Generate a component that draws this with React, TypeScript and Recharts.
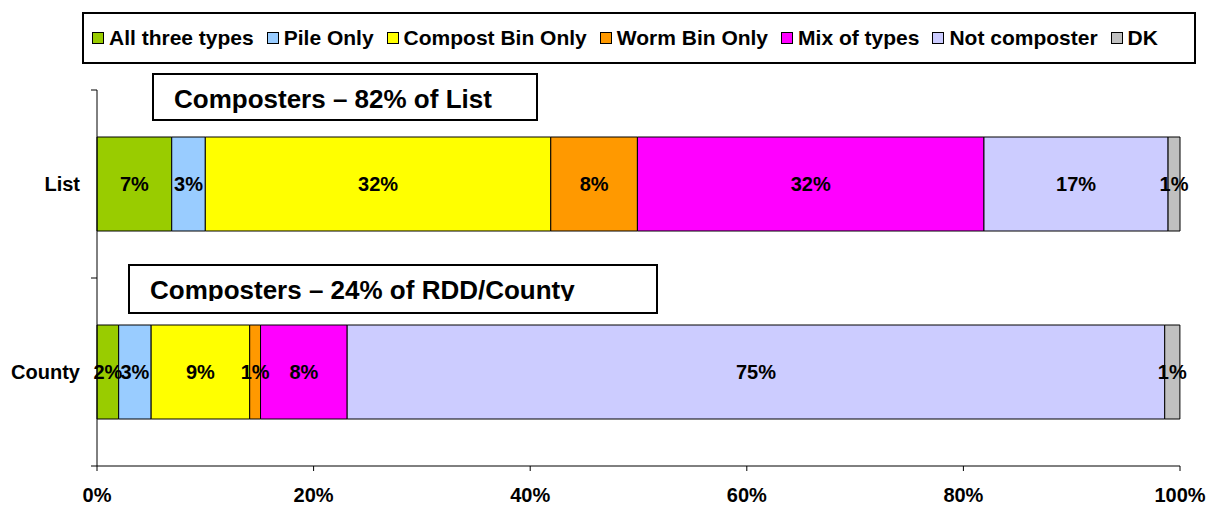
import { Bar, BarChart, LabelList, XAxis, YAxis } from 'recharts'

const FONT = 'Arial, "Liberation Sans", sans-serif'

const categories = ['List', 'County']
const seriesNames = ['All three types', 'Pile Only', 'Compost Bin Only', 'Worm Bin Only', 'Mix of types', 'Not composter', 'DK']
const seriesColors = ['#99CC00', '#99CCFF', '#FFFF00', '#FF9900', '#FF00FF', '#CCCCFF', '#C0C0C0']

// percent of respondents per category, one array per series (List, County)
const allThree = [6.9, 2.0]
const pileOnly = [3.1, 3.0]
const compostBin = [31.9, 9.1]
const wormBin = [8.0, 1.0]
const mixTypes = [32.0, 8.0]
const notComposter = [17.0, 75.49]
const dontKnow = [1.1, 1.4]

const xTicks = [0, 20, 40, 60, 80, 100]

const seriesValues = [allThree, pileOnly, compostBin, wormBin, mixTypes, notComposter, dontKnow]
const keys = seriesNames.map((_, i) => `s${i}`)

const data = categories.map((name, ci) => {
  const row: Record<string, string | number> = { name }
  seriesValues.forEach((vals, si) => {
    row[keys[si]] = vals[ci]
  })
  return row
})

const PLOT_TOP = 90
const PLOT_BOTTOM = 466
const HALF_BAND = (PLOT_BOTTOM - PLOT_TOP) / categories.length / 2

function CategoryTick(props: any) {
  const { x, y, payload, index } = props
  return (
    <g>
      <text x={x - 11} y={y} textAnchor="end" dominantBaseline="central" fontSize={20} fontWeight="bold" fill="#000" fontFamily={FONT}>
        {payload.value}
      </text>
      {index === 0 && <line x1={x} x2={x + 6} y1={y - HALF_BAND} y2={y - HALF_BAND} stroke="#000" />}
      <line x1={x} x2={x + 6} y1={y + HALF_BAND} y2={y + HALF_BAND} stroke="#000" />
    </g>
  )
}

function LegendBox() {
  return (
    <div
      style={{
        position: 'absolute',
        left: 82,
        top: 12,
        width: 1114,
        height: 52,
        border: '2px solid #000',
        display: 'flex',
        alignItems: 'center',
        paddingLeft: 8,
        gap: 13,
        fontFamily: FONT,
        fontWeight: 'bold',
        fontSize: 21,
        boxSizing: 'border-box',
        whiteSpace: 'nowrap',
      }}
    >
      {seriesNames.map((n, i) => (
        <div key={n} style={{ display: 'flex', alignItems: 'center' }}>
          <span style={{ display: 'inline-block', width: 10, height: 10, border: '1px solid #000', background: seriesColors[i], marginRight: 5 }} />
          <span>{n}</span>
        </div>
      ))}
    </div>
  )
}

function Note({ left, top, width, height, clip, text }: { left: number; top: number; width: number; height: number; clip: number; text: string }) {
  return (
    <div
      style={{
        position: 'absolute',
        left,
        top,
        width: width - 4,
        height: height - 4,
        border: '2px solid #000',
        background: '#fff',
        overflow: 'hidden',
      }}
    >
      <div style={{ height: clip, overflow: 'hidden' }}>
        <div style={{ paddingLeft: 20, paddingTop: 11, fontFamily: FONT, fontWeight: 'bold', fontSize: 26, lineHeight: '26px', whiteSpace: 'nowrap' }}>{text}</div>
      </div>
    </div>
  )
}

export default function App() {
  return (
    <div style={{ position: 'absolute', left: 0, top: 0, width: 1210, height: 506, background: '#fff' }}>
      <BarChart
        width={1210}
        height={506}
        data={data}
        layout="vertical"
        margin={{ top: PLOT_TOP, right: 30, left: 0, bottom: 0 }}
        barCategoryGap="25%"
        style={{ fontFamily: FONT }}
      >
        <XAxis
          type="number"
          domain={[0, 100]}
          ticks={xTicks}
          tickFormatter={(v: number) => `${v}%`}
          height={40}
          axisLine={{ stroke: '#000' }}
          tickLine={{ stroke: '#000' }}
          tickSize={5}
          tickMargin={17}
          tick={{ fill: '#000', fontSize: 20, fontWeight: 'bold' }}
        />
        <YAxis
          type="category"
          dataKey="name"
          width={97}
          axisLine={{ stroke: '#000' }}
          tickLine={false}
          tickSize={6}
          tickMargin={0}
          tick={<CategoryTick />}
        />
        {keys.map((k, i) => (
          <Bar key={k} dataKey={k} name={seriesNames[i]} stackId="a" fill={seriesColors[i]} stroke="#000" strokeWidth={1} isAnimationActive={false}>
            <LabelList
              dataKey={k}
              position="center"
              formatter={(v: any) => `${Math.round(Number(v))}%`}
              fill="#000"
              fontSize={20}
              fontWeight="bold"
            />
          </Bar>
        ))}
      </BarChart>
      <LegendBox />
      <Note left={152} top={73} width={386} height={48} clip={40} text="Composters – 82% of List" />
      <Note left={128} top={264} width={530} height={50} clip={35} text="Composters – 24% of RDD/County" />
    </div>
  )
}
